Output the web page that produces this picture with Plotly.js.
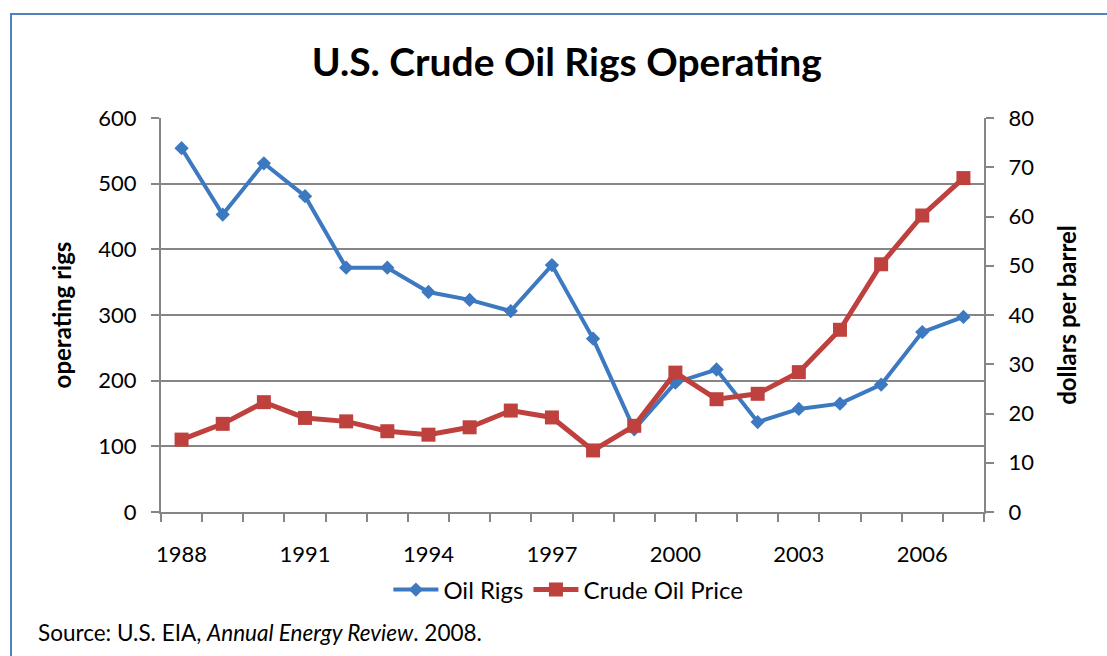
<!DOCTYPE html>
<html>
<head>
<meta charset="utf-8">
<script src="https://cdn.plot.ly/plotly-3.0.1.min.js"></script>
<style>
  html, body { margin: 0; padding: 0; background: #fff; overflow: hidden; }
  #vis { position: absolute; left: 0; top: 0; width: 1107px; height: 656px; }
  #frame {
    position: absolute; left: 10px; top: 13px; width: 1120px; height: 660px;
    border: 2px solid #4F81BD; box-sizing: border-box; pointer-events: none;
  }
</style>
</head>
<body>
<div id="vis"></div>
<div id="frame"></div>
<script>
// values
const years = [1988, 1989, 1990, 1991, 1992, 1993, 1994, 1995, 1996, 1997,
               1998, 1999, 2000, 2001, 2002, 2003, 2004, 2005, 2006, 2007];
const oilRigs = [554, 453, 531, 481, 372, 372, 335, 323, 306, 376,
                 264, 126, 197, 217, 137, 157, 165, 194, 274, 297];
const crudePrice = [14.7, 17.9, 22.3, 19.1, 18.4, 16.4, 15.7, 17.2, 20.6, 19.2,
                    12.5, 17.5, 28.3, 22.9, 24.0, 28.4, 37.0, 50.3, 60.2, 67.8];
const yearLabels = [1988, 1991, 1994, 1997, 2000, 2003, 2006];

const axisGray = '#868686';
const font = 'Lato, "Open Sans", sans-serif';

const data = [
  {
    x: years, y: oilRigs, name: 'Oil Rigs', type: 'scatter', mode: 'lines+markers',
    line: { color: '#3C79C0', width: 4 },
    marker: { symbol: 'diamond', size: 11, color: '#3C79C0' },
    yaxis: 'y'
  },
  {
    x: years, y: crudePrice, name: 'Crude Oil Price', type: 'scatter', mode: 'lines+markers',
    line: { color: '#BE413E', width: 5 },
    marker: { symbol: 'square', size: 14, color: '#BE413E' },
    yaxis: 'y2'
  }
];

const layout = {
  width: 1107,
  height: 656,
  margin: { l: 161, r: 123, t: 118, b: 144 },
  paper_bgcolor: '#fff',
  plot_bgcolor: '#fff',
  font: { family: font, size: 22, color: '#000' },
  title: {
    text: 'U.S. Crude Oil Rigs Operating',
    font: { family: font, size: 39, weight: 'bold', color: '#000' },
    x: 0.512, xanchor: 'center', y: 0.905, yanchor: 'middle'
  },
  xaxis: {
    type: 'linear',
    range: [1987.5, 2007.5],
    tickvals: yearLabels,
    ticks: '',
    ticklabelstandoff: 22,
    showgrid: false,
    zeroline: false,
    showline: true, linecolor: axisGray, linewidth: 2,
    minor: { tick0: 1987.5, dtick: 1, ticks: 'outside', ticklen: 8, tickcolor: axisGray, tickwidth: 2, showgrid: false }
  },
  yaxis: {
    range: [0, 600], dtick: 100,
    showgrid: true, gridcolor: axisGray, gridwidth: 2,
    zeroline: false,
    showline: true, linecolor: axisGray, linewidth: 2,
    ticks: 'outside', ticklen: 8, tickcolor: axisGray, tickwidth: 2,
    ticklabelstandoff: 10,
    title: { text: 'operating rigs', font: { family: font, size: 24, weight: 'bold' }, standoff: 20 }
  },
  yaxis2: {
    overlaying: 'y', side: 'right',
    range: [0, 80], dtick: 10,
    showgrid: false, zeroline: false,
    showline: true, linecolor: axisGray, linewidth: 2,
    ticks: 'outside', ticklen: 8, tickcolor: axisGray, tickwidth: 2,
    ticklabelstandoff: 10,
    title: { text: 'dollars per barrel', font: { family: font, size: 24, weight: 'bold' }, standoff: 26 }
  },
  showlegend: true,
  legend: {
    orientation: 'h', x: 0.495, xanchor: 'center', y: -0.198, yanchor: 'middle',
    font: { family: font, size: 24 }, bgcolor: 'rgba(0,0,0,0)', itemwidth: 45
  },
  annotations: [
    {
      text: 'Source: U.S. EIA, <i>Annual Energy Review</i>. 2008.',
      xref: 'paper', yref: 'paper', x: -0.152, y: -0.307,
      xanchor: 'left', yanchor: 'middle', showarrow: false,
      font: { family: font, size: 22.5, color: '#000' }
    }
  ]
};

Plotly.newPlot('vis', data, layout, { displayModeBar: false, staticPlot: true });
</script>
</body>
</html>
